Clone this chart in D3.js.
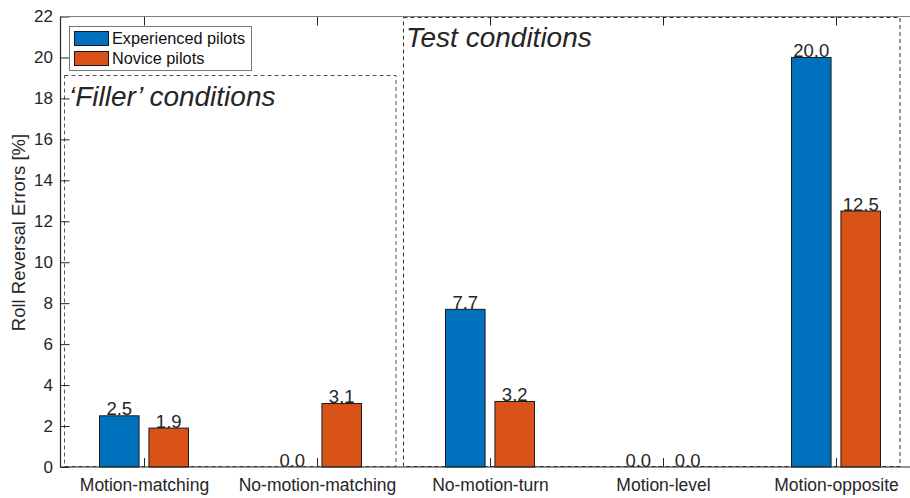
<!DOCTYPE html>
<html>
<head>
<meta charset="utf-8">
<script src="https://cdn.jsdelivr.net/npm/d3@7"></script>
<style>
  html, body { margin: 0; padding: 0; background: #fff; }
  svg { display: block; font-family: "Liberation Sans", Arial, Helvetica, sans-serif; }
</style>
</head>
<body>
<svg id="chart" width="910" height="498"></svg>
<script>
// Roll reversal errors per condition, experienced vs novice pilots
const categories = ["Motion-matching", "No-motion-matching", "No-motion-turn", "Motion-level", "Motion-opposite"];
const seriesNames = ["Experienced pilots", "Novice pilots"];
const experienced = [2.5, 0.0, 7.7, 0.0, 20.0];
const novice = [1.9, 3.1, 3.2, 0.0, 12.5];
const yTicks = [0, 2, 4, 6, 8, 10, 12, 14, 16, 18, 20, 22];
const colors = ["#0072BD", "#D95319"];

const svg = d3.select("#chart");
const plotLeft = 60.5, plotTop = 16.5, plotBottom = 467, plotRight = 922;

const y = d3.scaleLinear().domain([0, 22]).range([plotBottom, plotTop]);
const x = d3.scalePoint().domain(categories).range([144, 836]);
const xSub = d3.scaleBand().domain(seriesNames).range([-44.5, 44.5]).paddingInner(0.2);

const rows = categories.map((c, i) => ({ cat: c, values: [experienced[i], novice[i]] }));

// dashed group boxes (drawn under bars)
const dash = "4,3";
svg.append("rect")
  .attr("x", 64.5).attr("y", 75.5)
  .attr("width", 396 - 64.5).attr("height", 466.5 - 75.5)
  .attr("fill", "none").attr("stroke", "#555").attr("stroke-width", 1)
  .attr("stroke-dasharray", dash);
svg.append("rect")
  .attr("x", 403.5).attr("y", 17.5)
  .attr("width", 900 - 403.5).attr("height", 466.5 - 17.5)
  .attr("fill", "none").attr("stroke", "#333").attr("stroke-width", 1)
  .attr("stroke-dasharray", dash);

// bars
const groups = svg.append("g").selectAll("g").data(rows).join("g")
  .attr("transform", d => `translate(${x(d.cat)},0)`);

groups.selectAll("rect")
  .data(d => d.values.map((v, k) => ({ key: seriesNames[k], v, k })))
  .join("rect")
  .attr("x", d => xSub(d.key))
  .attr("width", xSub.bandwidth())
  .attr("y", d => y(d.v))
  .attr("height", d => y(0) - y(d.v))
  .attr("fill", d => colors[d.k])
  .attr("stroke", "#1a1a1a").attr("stroke-width", 1)
  .attr("display", d => d.v > 0 ? null : "none");

// value labels
groups.selectAll("text.val")
  .data(d => d.values.map((v, k) => ({ key: seriesNames[k], v, k })))
  .join("text").attr("class", "val")
  .attr("x", d => xSub(d.key) + xSub.bandwidth() / 2)
  .attr("y", d => y(d.v) - 0.5)
  .attr("text-anchor", "middle")
  .attr("font-size", 18.5)
  .attr("fill", "#262626")
  .text(d => d.v.toFixed(1));

// axes
const axisColor = "#262626";
const yAxis = d3.axisLeft(y).tickValues(yTicks).tickSize(-9).tickPadding(7.5);
const gy = svg.append("g").attr("transform", `translate(${plotLeft},0)`).call(yAxis);
gy.select(".domain").remove();
gy.selectAll("line").attr("stroke", axisColor);
gy.selectAll("text").attr("font-size", 17).attr("fill", axisColor).attr("font-family", null);

const xAxis = d3.axisBottom(x).tickSize(-9).tickPadding(12);
const gx = svg.append("g").attr("transform", `translate(0,${plotBottom})`).call(xAxis);
gx.select(".domain").remove();
gx.selectAll("line").attr("stroke", axisColor);
gx.selectAll("text").attr("font-size", 17.5).attr("fill", axisColor).attr("font-family", null);

// top tick marks
const xTop = d3.axisTop(x).tickSize(-9).tickFormat("");
const gt = svg.append("g").attr("transform", `translate(0,${plotTop})`).call(xTop);
gt.select(".domain").remove();
gt.selectAll("line").attr("stroke", axisColor);

// axis frame lines
svg.append("line").attr("x1", plotLeft).attr("x2", plotLeft).attr("y1", plotTop).attr("y2", plotBottom + 0.5)
  .attr("stroke", axisColor).attr("stroke-width", 1.2);
svg.append("line").attr("x1", plotLeft).attr("x2", plotRight).attr("y1", plotBottom).attr("y2", plotBottom)
  .attr("stroke", axisColor).attr("stroke-width", 1.2);
svg.append("line").attr("x1", plotLeft).attr("x2", plotRight).attr("y1", plotTop).attr("y2", plotTop)
  .attr("stroke", "#808080").attr("stroke-width", 1.2);

// y-axis title
svg.append("text")
  .attr("transform", `translate(25,232.5) rotate(-90)`)
  .attr("text-anchor", "middle")
  .attr("font-size", 18.5)
  .attr("fill", axisColor)
  .text("Roll Reversal Errors [%]");

// group annotations
svg.append("text").attr("x", 69).attr("y", 106)
  .attr("font-size", 28).attr("font-style", "italic").attr("fill", "#262626")
  .text("\u2018Filler\u2019 conditions");
svg.append("text").attr("x", 406).attr("y", 47)
  .attr("font-size", 28).attr("font-style", "italic").attr("fill", "#262626")
  .text("Test conditions");

// legend
const lg = svg.append("g");
lg.append("rect").attr("x", 69.5).attr("y", 26.5).attr("width", 182).attr("height", 44)
  .attr("fill", "#fff").attr("stroke", "#777").attr("stroke-width", 1);
seriesNames.forEach((name, k) => {
  lg.append("rect").attr("x", 74.5).attr("y", 31.5 + k * 20).attr("width", 34).attr("height", 14)
    .attr("fill", colors[k]).attr("stroke", "#1a1a1a").attr("stroke-width", 1);
  lg.append("text").attr("x", 112).attr("y", 44 + k * 20)
    .attr("font-size", 16.3).attr("fill", "#111").text(name);
});
</script>
</body>
</html>
